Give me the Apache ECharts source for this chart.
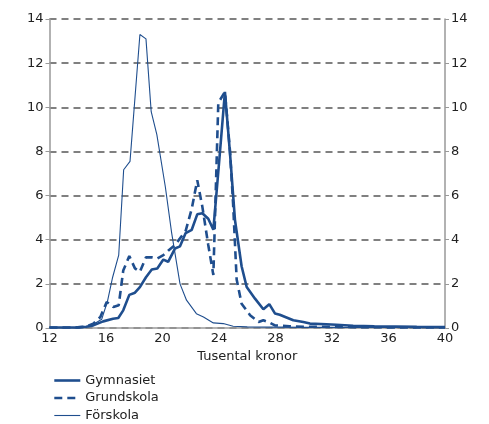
<!DOCTYPE html>
<html><head><meta charset="utf-8">
<script src="https://cdn.jsdelivr.net/npm/echarts@6/dist/echarts.min.js"></script>
<style>html,body{margin:0;padding:0;background:#fff}#c{width:489px;height:424px}</style>
</head><body><div id="c"></div>
<script>
// Gymnasiet
const gymX = [12, 13, 14, 14.6, 15.1, 15.8, 16.5, 16.87, 17.22, 17.65, 18.05, 18.4, 18.83, 19.24, 19.63, 20.06, 20.4, 20.88, 21.24, 21.64, 22.07, 22.46, 22.82, 23.24, 23.6, 24.02, 24.42, 24.78, 25.13, 25.6, 25.96, 26.55, 27.14, 27.56, 27.96, 28.3, 29.26, 29.97, 30.44, 31.6, 32.3, 33.5, 35, 36.5, 38, 40];
const gymY = [0.02, 0.02, 0.03, 0.06, 0.12, 0.3, 0.42, 0.45, 0.8, 1.5, 1.6, 1.85, 2.3, 2.65, 2.7, 3.1, 3.0, 3.6, 3.7, 4.3, 4.45, 5.15, 5.2, 4.95, 4.45, 7.6, 10.7, 7.9, 4.9, 2.8, 1.86, 1.33, 0.85, 1.08, 0.66, 0.6, 0.35, 0.27, 0.2, 0.17, 0.15, 0.1, 0.08, 0.07, 0.05, 0.04];
// Grundskola
const grundX = [12, 13, 14, 14.6, 15.1, 15.6, 16.05, 16.52, 16.9, 17.22, 17.65, 18.05, 18.4, 18.83, 19.24, 19.63, 20.06, 20.4, 20.88, 21.24, 21.64, 22.07, 22.46, 22.82, 23.24, 23.6, 23.95, 24.42, 24.78, 25.0, 25.25, 25.6, 26.2, 26.8, 27.14, 27.56, 27.96, 29, 30, 32, 34, 36, 38, 40];
const grundY = [0.02, 0.02, 0.03, 0.06, 0.2, 0.5, 1.18, 0.95, 1.03, 2.6, 3.26, 2.7, 2.55, 3.2, 3.2, 3.15, 3.3, 3.5, 3.76, 4.06, 4.4, 5.4, 6.7, 5.5, 3.76, 2.4, 10.2, 10.7, 8.0, 5.6, 2.2, 1.1, 0.58, 0.27, 0.35, 0.25, 0.12, 0.08, 0.06, 0.05, 0.04, 0.03, 0.03, 0.02];
// Förskola
const forX = [12, 13, 14, 14.7, 15.2, 15.7, 16.1, 16.47, 16.9, 17.25, 17.7, 18.4, 18.83, 19.2, 19.6, 20.2, 20.65, 21.24, 21.7, 22.4, 22.9, 23.6, 24.3, 25, 26, 28, 30, 32, 34, 36, 38, 40];
const forY = [0.02, 0.02, 0.03, 0.08, 0.2, 0.4, 1.2, 2.3, 3.3, 7.17, 7.55, 13.3, 13.1, 9.8, 8.76, 6.4, 4.3, 2.0, 1.26, 0.65, 0.5, 0.23, 0.2, 0.08, 0.05, 0.04, 0.03, 0.03, 0.02, 0.02, 0.02, 0.02];

const seriesNames = ['Gymnasiet', 'Grundskola', 'Förskola'];
const xName = 'Tusental kronor';

const zip = (xs, ys) => xs.map((x, i) => [x, ys[i]]);
const col = '#1F4E8E';
const font = 'DejaVu Sans, Verdana, sans-serif';
const txt = '#222';
const widths = [2.6, 2.6, 1.1];
const dashes = ['solid', [8, 5], 'solid'];

const yAxisBase = {
  type: 'value', min: 0, max: 14, interval: 2,
  axisLine: { show: true, lineStyle: { color: '#999', width: 1.5 } },
  axisTick: { show: true, length: 4, lineStyle: { color: '#999' } },
  axisLabel: { color: txt, fontSize: 13, fontFamily: font, margin: 6 }
};

const chart = echarts.init(document.getElementById('c'), null, { renderer: 'canvas' });
chart.setOption({
  animation: false,
  grid: { left: 49.5, right: 44, top: 19, bottom: 96, containLabel: false },
  xAxis: {
    type: 'value', min: 12, max: 40, interval: 4,
    name: xName, nameLocation: 'middle', nameGap: 20,
    nameTextStyle: { color: txt, fontSize: 13, fontFamily: font },
    axisLine: { show: true, onZero: false, lineStyle: { color: '#999', width: 1.5 } },
    axisTick: { show: false },
    splitLine: { show: false },
    axisLabel: { color: txt, fontSize: 13, fontFamily: font, margin: 4 }
  },
  yAxis: [
    Object.assign({}, yAxisBase, { position: 'left',
      splitLine: { show: true, lineStyle: { color: '#808080', width: 2, type: [7, 5] } } }),
    Object.assign({}, yAxisBase, { position: 'right', splitLine: { show: false } })
  ],
  legend: {
    orient: 'vertical', left: 53, top: 374, padding: 0,
    itemWidth: 26, itemHeight: 14, itemGap: 4.5,
    itemStyle: { opacity: 0 },
    textStyle: { color: txt, fontSize: 13, fontFamily: font },
    data: seriesNames.map((n, i) => ({ name: n,
      lineStyle: { color: col, width: widths[i], type: dashes[i] } }))
  },
  series: [
    { name: seriesNames[0], type: 'line', data: zip(gymX, gymY), symbol: 'none', z: 3,
      lineStyle: { color: col, width: widths[0], type: dashes[0] }, itemStyle: { color: col } },
    { name: seriesNames[1], type: 'line', data: zip(grundX, grundY), symbol: 'none', z: 4,
      lineStyle: { color: col, width: widths[1], type: dashes[1] }, itemStyle: { color: col } },
    { name: seriesNames[2], type: 'line', data: zip(forX, forY), symbol: 'none', z: 2,
      lineStyle: { color: col, width: widths[2], type: dashes[2] }, itemStyle: { color: col } }
  ]
});
</script></body></html>
